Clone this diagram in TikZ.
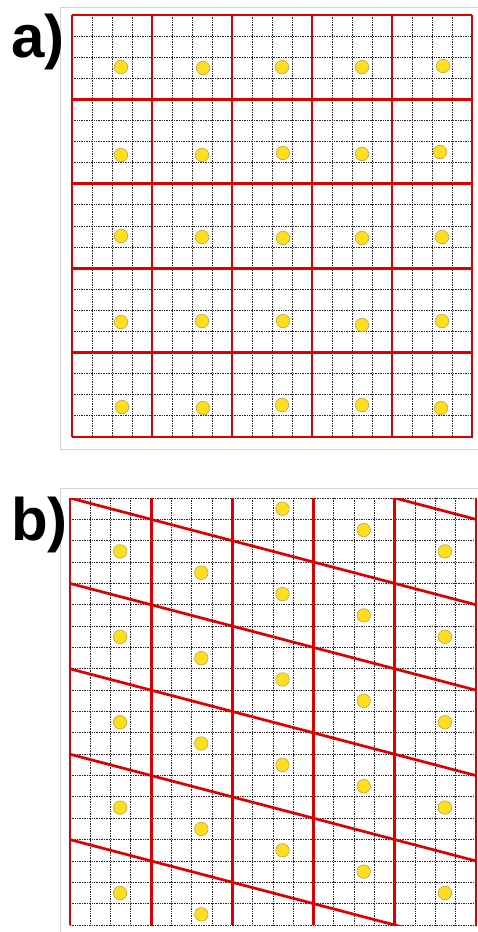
\documentclass[tikz,border=0pt]{standalone}
\usepackage{fontspec}
\setmainfont{Liberation Sans}
\usepackage{tikz}
\usepackage{xcolor}

\definecolor{gridred}{RGB}{222,0,0}
\definecolor{spotyellow}{RGB}{255,222,30}
\definecolor{spotedge}{RGB}{185,165,70}
\definecolor{framegrey}{RGB}{212,212,212}

\tikzset{
  redline/.style={draw=gridred, line width=2.7pt},
  fineline/.style={draw=black!85, line width=0.9pt, dash pattern=on 1pt off 0.7pt},
  spot/.style={circle, fill=spotyellow, draw=spotedge, line width=0.6pt, minimum size=13.5pt, inner sep=0pt},
  frameline/.style={draw=framegrey, line width=1pt},
  panellabel/.style={font=\bfseries\fontsize{60}{60}\selectfont, inner sep=0pt, anchor=base west}
}

\begin{document}
\begin{tikzpicture}[x=1pt,y=-1pt]
\useasboundingbox (0,0) rectangle (478,932);

% frames round the two panels
\draw[frameline] (482,7) -- (60,7) -- (60,449) -- (482,449);
\draw[frameline] (482,488) -- (60,488) -- (60,936);

\node[panellabel] (labA) at (11,57) {a)};
\node[panellabel] (labB) at (11,540) {b)};

% panel a: fine grid
\foreach \i in {0,...,20} {
  \draw[fineline] ({72+20*\i},15) -- ({72+20*\i},437);
  \draw[fineline] (72,{15+21.1*\i}) -- (472,{15+21.1*\i});
}
% panel a: square cells
\foreach \k in {0,...,5} {
  \draw[redline] ({72+80*\k},15) -- ({72+80*\k},437);
  \draw[redline] (72,{15+84.4*\k}) -- (472,{15+84.4*\k});
}
\foreach \r/\pts in {1/{121/67,203/68,282/67,362/67,443/66},
                     2/{121/155,202/155,283/153,362/154,440/152},
                     3/{121/236,202/237,283/238,362/238,442/237},
                     4/{121/322,202/321,283/321,362/325,442/321},
                     5/{122/407,203/408,282/405,362/405,441/408}} {
  \foreach \x/\y [count=\c] in \pts
    \node[spot] (a\r\c) at (\x,\y) {};
}

% panel b: fine grid
\foreach \i in {0,...,20} {
  \draw[fineline] ({70+20.3*\i},498) -- ({70+20.3*\i},925);
  \draw[fineline] (70,{498+21.35*\i}) -- (476,{498+21.35*\i});
}
% panel b: sheared cells
\begin{scope}
  \clip (70,498) rectangle (476,925);
  \foreach \k in {-1,...,4}
    \draw[redline] (70,{498+85.4*\k}) -- (476,{498+85.4*\k+106.75});
\end{scope}
\foreach \k in {0,...,5}
  \draw[redline] ({70+81.2*\k},498) -- ({70+81.2*\k},925);
\foreach \c/\o in {1/2.5,2/3.5,3/0.5,4/1.5,5/2.5} {
  \foreach \r in {1,...,5}
    \node[spot] (b\r\c) at ({70+81.2*(\c-1)+50.1},{498+21.35*(\o+4*(\r-1))}) {};
}
\end{tikzpicture}
\end{document}
